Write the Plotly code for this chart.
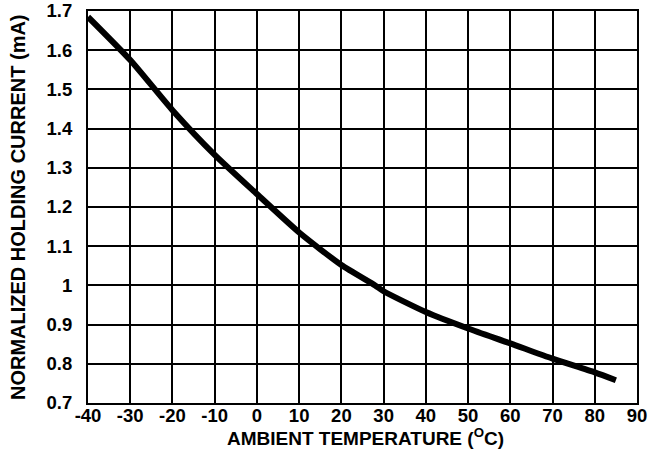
import plotly.graph_objects as go

temps = [-40, -30, -20, -10, 0, 10, 20, 28, 30, 40, 50, 60, 70, 80, 85]
current = [1.685, 1.575, 1.447, 1.333, 1.233, 1.135, 1.052, 1.0, 0.985, 0.932, 0.89, 0.852, 0.813, 0.778, 0.758]

x_ticks = list(range(-40, 91, 10))
x_tick_text = ["-40", "-30", "-20", "-10", "0", "10", "20", "30", "40", "50", "60", "70", "80", "90"]
y_ticks = [0.7, 0.8, 0.9, 1.0, 1.1, 1.2, 1.3, 1.4, 1.5, 1.6, 1.7]
y_tick_text = ["0.7", "0.8", "0.9", "1", "1.1", "1.2", "1.3", "1.4", "1.5", "1.6", "1.7"]

x_title = "<b>AMBIENT TEMPERATURE (<sup>O</sup>C)</b>"
y_title = "<b>NORMALIZED HOLDING CURRENT (mA)</b>"

fig = go.Figure()
fig.add_trace(go.Scatter(x=temps, y=current, mode="lines",
                         line=dict(color="black", width=6, shape="spline", smoothing=0.6),
                         showlegend=False, hoverinfo="skip"))

tf = dict(size=18.5, family="Liberation Sans", color="black", weight="bold")

fig.update_layout(
    width=649, height=450,
    margin=dict(l=88, r=12, t=11, b=47),
    paper_bgcolor="white", plot_bgcolor="white",
    font=dict(family="Liberation Sans, Arial, sans-serif", size=17, color="black"),
    xaxis=dict(range=[-40, 90], tickvals=x_ticks, ticktext=x_tick_text, showgrid=True, gridcolor="black",
               gridwidth=2, showline=True, linecolor="black", linewidth=2, mirror=True, zeroline=False,
               ticks="", ticklabelstandoff=-5, automargin=False, tickfont=tf),
    yaxis=dict(range=[0.7, 1.7], tickvals=y_ticks, ticktext=y_tick_text, showgrid=True, gridcolor="black",
               gridwidth=2, showline=True, linecolor="black", linewidth=2, mirror=True, zeroline=False,
               ticks="", ticklabelstandoff=10, automargin=False, tickfont=tf),
    annotations=[
        dict(text=x_title, xref="paper", yref="paper", x=0.5046, y=-0.0867,
             xanchor="center", yanchor="middle", showarrow=False,
             font=dict(size=19, family="Liberation Sans", color="black")),
        dict(text=y_title, xref="paper", yref="paper", x=-0.1275, y=0.5, textangle=-90,
             xanchor="center", yanchor="middle", showarrow=False,
             font=dict(size=20, family="Liberation Sans", color="black")),
    ],
)

fig.write_html("out.html", config={"displayModeBar": False},
               post_script="document.body.style.margin='0';")
